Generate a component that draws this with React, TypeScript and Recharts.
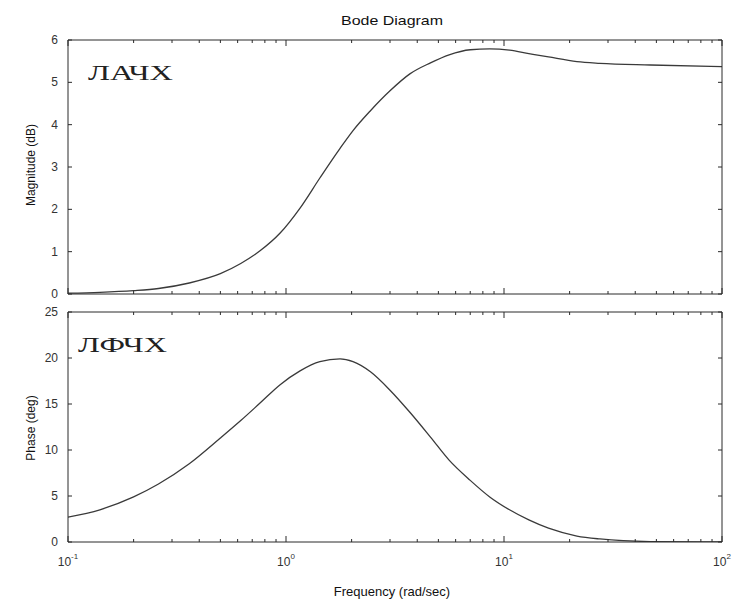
import { LineChart, Line, XAxis, YAxis } from 'recharts';

// frequency points (rad/sec)
const freq = [0.1, 0.14, 0.2, 0.26, 0.36, 0.5, 0.62, 0.76, 0.94, 1.16, 1.43, 1.77, 2.03, 2.44, 3.0, 3.7, 4.6, 5.6, 7.0, 8.6, 10.6, 13, 16, 21.6, 27.5, 47, 100];
const magnitude = [0.02, 0.04, 0.08, 0.13, 0.26, 0.48, 0.72, 1.02, 1.44, 2.03, 2.74, 3.44, 3.86, 4.33, 4.8, 5.2, 5.46, 5.65, 5.77, 5.79, 5.76, 5.68, 5.6, 5.49, 5.45, 5.41, 5.37];
const phase = [2.7, 3.5, 4.9, 6.3, 8.5, 11.3, 13.2, 15.1, 17.1, 18.6, 19.6, 19.9, 19.6, 18.5, 16.5, 14.1, 11.4, 8.9, 6.7, 4.9, 3.5, 2.4, 1.5, 0.65, 0.33, 0.05, 0.0];

const decades = [0.1, 1, 10, 100];
const decadeExp = ['-1', '0', '1', '2'];
const magTicks = [0, 1, 2, 3, 4, 5, 6];
const phaseTicks = [0, 5, 10, 15, 20, 25];

const freqTicks: number[] = [];
decades.forEach((d, i) => {
  freqTicks.push(d);
  if (i < decades.length - 1) [2, 3, 4, 5, 6, 7, 8, 9].forEach((m) => freqTicks.push(+(d * m).toPrecision(3)));
});

const magData = freq.map((f, i) => ({ f, v: magnitude[i] }));
const phaseData = freq.map((f, i) => ({ f, v: phase[i] }));

const INK = '#2a2a2a';
const SANS = '"Liberation Sans", Arial, sans-serif';
const SERIF = '"Liberation Serif", "DejaVu Serif", serif';

const isDecade = (v: number) => decades.some((d) => Math.abs(d - v) < 1e-9);

function BottomTick(props: any) {
  const { x, y, payload, labels } = props;
  const major = isDecade(payload.value);
  const len = major ? 6 : 3;
  const exp = decadeExp[decades.findIndex((d) => Math.abs(d - payload.value) < 1e-9)];
  return (
    <g>
      <line x1={x} y1={y} x2={x} y2={y - len} stroke={INK} strokeWidth={1} />
      {labels && major ? (
        <text x={x} y={y + 24} textAnchor="middle" fontFamily={SANS} fontSize={12} fill="#333">
          10<tspan dy={-7} fontSize={8}>{exp}</tspan>
        </text>
      ) : null}
    </g>
  );
}

function TopTick(props: any) {
  const { x, y, payload } = props;
  const len = isDecade(payload.value) ? 6 : 3;
  return <line x1={x} y1={y} x2={x} y2={y + len} stroke={INK} strokeWidth={1} />;
}

function LeftTick(props: any) {
  const { x, y, payload } = props;
  return (
    <g>
      <line x1={x} y1={y} x2={x + 4} y2={y} stroke={INK} strokeWidth={1} />
      <text x={x - 10} y={y} textAnchor="end" dominantBaseline="central" fontFamily={SANS} fontSize={12} fill="#333">
        {payload.value}
      </text>
    </g>
  );
}

function RightTick(props: any) {
  const { x, y } = props;
  return <line x1={x} y1={y} x2={x - 4} y2={y} stroke={INK} strokeWidth={1} />;
}

function Panel({ data, yTicks, top, height, margin, bottomH, labels }: any) {
  const yMax = yTicks[yTicks.length - 1];
  return (
    <div style={{ position: 'absolute', left: 0, top }}>
      <LineChart width={733} height={height} data={data} margin={margin}>
        <XAxis xAxisId="b" dataKey="f" type="number" scale="log" domain={[0.1, 100]} allowDataOverflow
          ticks={freqTicks} interval={0} height={bottomH} tickSize={0} tickMargin={0} tickLine={false}
          axisLine={{ stroke: INK }} tick={(p: any) => <BottomTick {...p} labels={labels} />} />
        <XAxis xAxisId="t" orientation="top" dataKey="f" type="number" scale="log" domain={[0.1, 100]} allowDataOverflow
          ticks={freqTicks} interval={0} height={1} tickSize={0} tickMargin={0} tickLine={false}
          axisLine={{ stroke: INK }} tick={(p: any) => <TopTick {...p} />} />
        <YAxis yAxisId="l" type="number" domain={[0, yMax]} allowDataOverflow ticks={yTicks} interval={0}
          width={40} tickSize={0} tickMargin={0} tickLine={false} axisLine={{ stroke: INK }}
          tick={(p: any) => <LeftTick {...p} />} />
        <YAxis yAxisId="r" orientation="right" type="number" domain={[0, yMax]} allowDataOverflow ticks={yTicks} interval={0}
          width={1} tickSize={0} tickMargin={0} tickLine={false} axisLine={{ stroke: INK }}
          tick={(p: any) => <RightTick {...p} />} />
        <Line xAxisId="b" yAxisId="l" dataKey="v" type="monotone" stroke="#3a3a3a" strokeWidth={1.3}
          dot={false} isAnimationActive={false} />
      </LineChart>
    </div>
  );
}

export default function App() {
  return (
    <div style={{ position: 'absolute', left: 0, top: 0, width: 733, height: 604, background: '#fff' }}>
      <Panel data={magData} yTicks={magTicks} top={0} height={300}
        margin={{ top: 39, right: 10, bottom: 5, left: 28 }} bottomH={1} labels={false} />
      <Panel data={phaseData} yTicks={phaseTicks} top={300} height={304}
        margin={{ top: 11, right: 10, bottom: 22, left: 28 }} bottomH={40} labels />
      <svg width={733} height={604} style={{ position: 'absolute', left: 0, top: 0, pointerEvents: 'none' }}>
        <text x={392} y={25} textAnchor="middle" fontFamily={SANS} fontSize={13} fill="#111"
          textLength={102} lengthAdjust="spacingAndGlyphs">Bode Diagram</text>
        <text x={392} y={596} textAnchor="middle" fontFamily={SANS} fontSize={13} fill="#111">Frequency (rad/sec)</text>
        <text transform="translate(31,165) rotate(-90)" textAnchor="middle" dominantBaseline="central"
          fontFamily={SANS} fontSize={12} fill="#111">Magnitude (dB)</text>
        <text transform="translate(31,428) rotate(-90)" textAnchor="middle" dominantBaseline="central"
          fontFamily={SANS} fontSize={12} fill="#111">Phase (deg)</text>
        <text x={88} y={80} fontFamily={SERIF} fontSize={22} fill="#222"
          textLength={85} lengthAdjust="spacingAndGlyphs">ЛАЧХ</text>
        <text x={78} y={352} fontFamily={SERIF} fontSize={22} fill="#222"
          textLength={89} lengthAdjust="spacingAndGlyphs">ЛФЧХ</text>
      </svg>
    </div>
  );
}
